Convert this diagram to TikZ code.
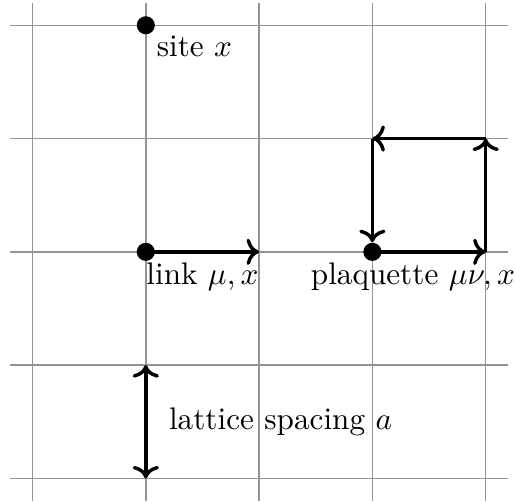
\documentclass[tikz,border=0pt]{standalone}
\usetikzlibrary{arrows.meta}
\tikzset{
  gridline/.style={draw=black!42, line width=0.45pt},
  dotnode/.style={circle, fill=black, inner sep=0pt, minimum size=5.8pt},
  linkarrow/.style={draw=black, line width=1.1pt, ->},
  lbl/.style={inner sep=3.33pt}
}
\begin{document}
\begin{tikzpicture}[x=36.3pt, y=36.3pt]
  \useasboundingbox (-0.287,-0.207) rectangle (4.259,4.223);
  % grid
  \foreach \i in {0,...,4} {
    \draw[gridline] (-0.2,\i) -- (4.2,\i);
    \draw[gridline] (\i,-0.2) -- (\i,4.2);
  }
  % site
  \node[dotnode] (site) at (1,4) {};
  \node[lbl, anchor=north west] (sitelbl) at (1,4) {site $x$};
  % link
  \node[dotnode] (linkstart) at (1,2) {};
  \coordinate (linkend) at (2,2);
  \draw[linkarrow] (linkstart.center) -- (linkend);
  \node[lbl, anchor=north] (linklbl) at (1.5,2) {link $\mu,x$};
  % plaquette
  \node[dotnode] (pa) at (3,2) {};
  \coordinate (pb) at (4,2);
  \coordinate (pc) at (4,3);
  \coordinate (pd) at (3,3);
  \draw[linkarrow] (pa.center) -- (pb);
  \draw[linkarrow] (pb) -- (pc);
  \draw[linkarrow] (pc) -- (pd);
  \draw[linkarrow] (pd) -- (pa.north);
  \node[lbl, anchor=north] (plaqlbl) at (3.358,2) {plaquette $\mu\nu,x$};
  % lattice spacing
  \coordinate (sa) at (1,1);
  \coordinate (sb) at (1,0);
  \draw[linkarrow, <->] (sa) -- (sb);
  \node[lbl, anchor=west] (spacinglbl) at (1.108,0.5) {lattice spacing $a$};
\end{tikzpicture}
\end{document}
